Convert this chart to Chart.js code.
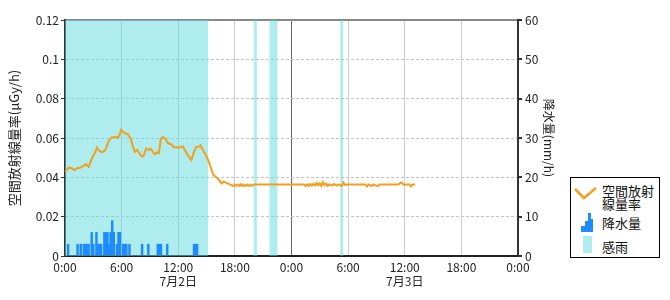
<!DOCTYPE html>
<html>
<head>
<meta charset="utf-8">
<script src="https://cdn.jsdelivr.net/npm/chart.js@4/dist/chart.umd.min.js"></script>
<style>
  body { margin: 0; background: #fff; }
  #wrap { position: relative; width: 670px; height: 300px; }
  #legend {
    position: absolute; left: 570px; top: 177px; width: 88px; height: 79px;
    border: 1px solid #000; background: #fff;
    font-family: "Noto Sans CJK JP", sans-serif; font-size: 13px; color: #111;
  }
  #legend svg, #legend span { position: absolute; }
  #legend span { left: 31px; line-height: 13px; }
</style>
</head>
<body>
<div id="wrap">
  <canvas id="doseChart" width="670" height="300"></canvas>
  <div id="legend">
    <svg style="left:3px;top:8px" width="24" height="16"><polyline points="1,3 10,12 22,2" fill="none" stroke="#F0A01E" stroke-width="2.5"/></svg>
    <span style="top:6px">空間放射<br>線量率</span>
    <svg style="left:10px;top:35px" width="13" height="20"><polygon points="0,19 0,13 4,13 4,8 7,8 7,0 10,0 10,6 12,6 12,19" fill="#1E8CFF"/></svg>
    <span style="top:38px">降水量</span>
    <svg style="left:12px;top:58px" width="10" height="18"><rect x="0" y="0" width="9" height="17" fill="#AFECEE"/></svg>
    <span style="top:62px">感雨</span>
  </div>
</div>
<script>
// 空間放射線量率 (μGy/h) : 時刻は 7/2 0:00 からの経過時間
const doseHours = [0, 0.39, 0.74, 1.0, 1.27, 1.63, 1.98, 2.23, 2.51, 2.86, 3.22, 3.39, 3.64, 3.92,
  4.27, 4.63, 4.91, 5.34, 5.62, 5.76, 5.97, 6.15, 6.33, 6.68, 6.96, 7.18, 7.39, 7.64, 7.88,
  8.17, 8.34, 8.59, 8.87, 9.05, 9.3, 9.51, 9.72, 9.94, 10.15, 10.36, 10.64, 10.92, 11.27,
  11.52, 12.05, 12.48, 12.76, 13.04, 13.39, 13.65, 13.89, 14.18, 14.35, 14.53, 14.88,
  15.24, 15.59, 15.73, 16.26, 16.6, 16.8, 17.07, 17.5, 17.85,
  18.0, 18.17, 18.33, 18.5, 18.67, 18.83, 19.0, 19.17, 19.33, 19.5, 19.67, 19.83, 20.0,
  25.33, 25.5, 25.67, 25.83, 26.0, 26.17, 26.33, 26.5, 26.67, 26.83, 27.0, 27.17, 27.33,
  27.5, 27.67, 27.83, 28.0, 28.33, 28.5, 28.83, 29.0, 29.33, 29.5, 29.67, 30.0,
  31.83, 32.0, 32.17, 32.5, 32.67, 33.17, 33.33, 35.33, 35.5, 35.67, 35.83, 36.5, 36.67,
  36.83, 37.1];
const doseValues = [0.0429, 0.0449, 0.0446, 0.0436, 0.0446, 0.0449, 0.0459, 0.0466, 0.0454,
  0.0497, 0.0530, 0.0551, 0.0534, 0.0527, 0.0539, 0.0585, 0.0602, 0.0605, 0.0602, 0.0615,
  0.0642, 0.0632, 0.0624, 0.0619, 0.0598, 0.0561, 0.0530, 0.0539, 0.0522, 0.0505, 0.0510,
  0.0547, 0.0539, 0.0547, 0.0530, 0.0517, 0.0527, 0.0522, 0.0595, 0.0605, 0.0595, 0.0573,
  0.0568, 0.0554, 0.0551, 0.0557, 0.0534, 0.0510, 0.0488, 0.0527, 0.0554, 0.0556, 0.0564,
  0.0547, 0.0517, 0.0480, 0.0429, 0.0412, 0.0390, 0.0369, 0.0378, 0.0373, 0.0363, 0.0356,
  0.0363, 0.0356, 0.0363, 0.0356, 0.0366, 0.0356, 0.0363, 0.0356, 0.0363, 0.0356, 0.0363,
  0.0356, 0.0364,
  0.0364, 0.0356, 0.0364, 0.0356, 0.0366, 0.0358, 0.0368, 0.0358, 0.0372, 0.0360, 0.0370,
  0.0356, 0.0376, 0.0360, 0.0368, 0.0356, 0.0364, 0.0358, 0.0366, 0.0358, 0.0364, 0.0356,
  0.0374, 0.0362, 0.0364,
  0.0364, 0.0354, 0.0364, 0.0356, 0.0364, 0.0354, 0.0364, 0.0364, 0.0370, 0.0374, 0.0364,
  0.0364, 0.0354, 0.0364, 0.0364];

// 降水量 (mm/h) : 10分ごと
const rainHours = [0.33, 1.33, 1.67, 2.0, 2.17, 2.33, 2.5, 2.83, 3.0, 3.33, 3.5, 3.67, 3.83,
  4.17, 4.33, 4.5, 4.67, 4.83, 5.0, 5.17, 5.5, 5.67, 5.83, 6.17, 6.33, 6.5, 6.83,
  8.17, 8.83, 9.83, 10.0, 10.17, 10.83, 13.67, 13.83, 14.0];
const rainValues = [3, 3, 3, 3, 3, 3, 3, 6, 3, 6, 3, 3, 3,
  6, 6, 6, 3, 6, 9, 6, 3, 6, 6, 3, 3, 3, 3,
  3, 3, 3, 3, 3, 3, 3, 3, 3];

// 感雨の時間帯
const senseStart = [0, 20.0, 21.67, 29.17];
const senseEnd = [15.17, 20.33, 22.5, 29.5];

const xTicks = ['0:00', '6:00', '12:00', '18:00', '0:00', '6:00', '12:00', '18:00', '0:00'];
const dayLabels = { 12: '7月2日', 36: '7月3日' };

const sensePoints = [];
senseStart.forEach((s, i) => {
  sensePoints.push({ x: s, y: 1 });
  sensePoints.push({ x: senseEnd[i], y: 0 });
});

Chart.defaults.font.family = '"Noto Sans CJK JP", sans-serif';
Chart.defaults.font.size = 12;
Chart.defaults.color = '#222';

const ctx = document.getElementById('doseChart').getContext('2d');
new Chart(ctx, {
  type: 'bar',
  data: {
    datasets: [
      {
        type: 'line',
        label: '空間放射線量率',
        data: doseHours.map((h, i) => ({ x: h, y: doseValues[i] })),
        borderColor: '#F0A01E',
        borderWidth: 2,
        pointRadius: 0,
        tension: 0,
        yAxisID: 'y',
        order: 1
      },
      {
        type: 'bar',
        label: '降水量',
        data: rainHours.map((h, i) => ({ x: h, y: rainValues[i] })),
        backgroundColor: '#1E8CFF',
        barThickness: 1.8,
        yAxisID: 'y2',
        order: 2
      },
      {
        type: 'line',
        label: '感雨',
        data: sensePoints,
        stepped: true,
        fill: 'origin',
        backgroundColor: 'rgba(95,217,221,0.5)',
        borderWidth: 0,
        pointRadius: 0,
        yAxisID: 'yb',
        order: 3
      }
    ]
  },
  options: {
    responsive: false,
    animation: false,
    devicePixelRatio: 1,
    layout: { padding: { top: 20, right: 110, left: 0, bottom: 0 } },
    plugins: { legend: { display: false }, tooltip: { enabled: false } },
    scales: {
      x: {
        type: 'linear',
        min: 0,
        max: 48,
        offset: false,
        afterFit: s => { s.height = 44; },
        grid: {
          offset: false,
          drawTicks: false,
          color: c => (c.tick.value === 24 ? '#666' : (c.tick.value % 48 === 0 ? 'transparent' : '#ccc'))
        },
        border: { color: '#222', width: 2 },
        ticks: {
          stepSize: 6,
          autoSkip: false,
          maxRotation: 0,
          padding: 4,
          callback: v => {
            const t = xTicks[v / 6];
            return dayLabels[v] ? [t, dayLabels[v]] : t;
          }
        }
      },
      y: {
        position: 'left',
        min: 0,
        max: 0.12,
        afterFit: s => { s.width = 65; },
        title: { display: true, text: '空間放射線量率(μGy/h)', font: { size: 13 }, padding: { top: 6, bottom: 2 } },
        grid: {
          tickLength: 4,
          tickColor: '#333',
          color: c => (c.index === 0 || c.index === 6 ? 'transparent' : '#c4c4c4')
        },
        border: { color: '#333', width: 2, dash: [3, 2] },
        ticks: { stepSize: 0.02, padding: 2, callback: v => String(+v.toFixed(2)) }
      },
      y2: {
        position: 'right',
        min: 0,
        max: 60,
        afterFit: s => { s.width = 42; },
        title: { display: true, text: '降水量(mm/h)', font: { size: 12 }, padding: { top: 4, bottom: 2 } },
        grid: {
          tickLength: 4,
          tickColor: '#333',
          lineWidth: 2,
          color: c => (c.tick.value === 60 ? '#888' : 'transparent')
        },
        border: { color: '#333', width: 2 },
        ticks: { stepSize: 10, padding: 3 }
      },
      yb: { display: false, min: 0, max: 1 }
    }
  }
});
</script>
</body>
</html>
